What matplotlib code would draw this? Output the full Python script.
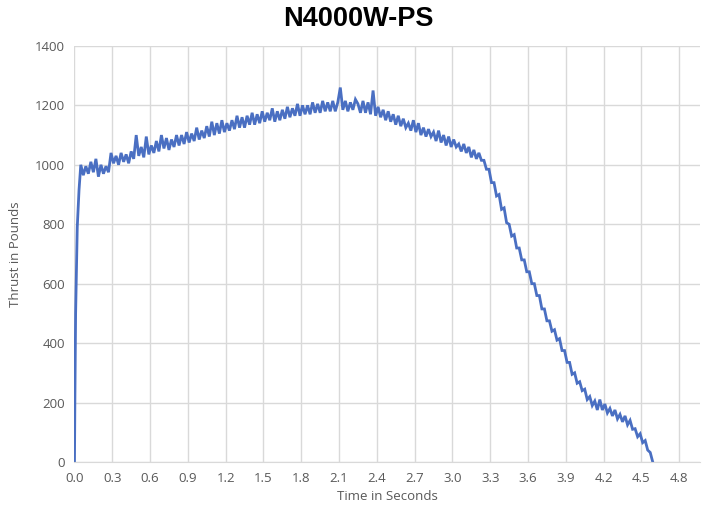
import numpy as np
import matplotlib.pyplot as plt

# thrust curve (pounds)
# ignition ramp, sampled irregularly
ramp_time = [0.0, 0.003, 0.009, 0.022, 0.036]
ramp_thrust = [0, 200, 500, 790, 915]

# main burn, one reading every 0.02 s starting at 0.05 s
sample_start = 0.05
sample_step = 0.02
burn_thrust = [
    1000, 965, 995, 970, 1010, 975, 1020, 960, 1000, 970,
    995, 975, 1040, 1005, 1030, 1000, 1040, 1010, 1035, 1005,
    1045, 1020, 1100, 1030, 1060, 1025, 1095, 1035, 1065, 1040,
    1080, 1045, 1100, 1055, 1090, 1050, 1085, 1060, 1100, 1065,
    1100, 1070, 1110, 1075, 1105, 1080, 1125, 1085, 1115, 1090,
    1130, 1095, 1145, 1100, 1140, 1105, 1150, 1110, 1140, 1115,
    1150, 1120, 1165, 1125, 1160, 1125, 1165, 1135, 1175, 1135,
    1170, 1140, 1180, 1145, 1175, 1150, 1190, 1145, 1180, 1150,
    1185, 1155, 1195, 1160, 1190, 1165, 1205, 1165, 1200, 1170,
    1200, 1170, 1210, 1175, 1205, 1175, 1215, 1180, 1210, 1180,
    1215, 1180, 1210, 1260, 1185, 1215, 1180, 1210, 1185, 1220,
    1205, 1175, 1215, 1175, 1210, 1170, 1250, 1165, 1195, 1160,
    1185, 1150, 1180, 1145, 1170, 1135, 1165, 1130, 1155, 1125,
    1140, 1115, 1150, 1110, 1140, 1100, 1125, 1095, 1120, 1095,
    1110, 1080, 1115, 1075, 1100, 1065, 1095, 1060, 1085, 1060,
    1070, 1045, 1070, 1040, 1060, 1025, 1050, 1020, 1040, 1015,
    1015, 985, 985, 940, 940, 895, 900, 850, 855, 805,
    800, 760, 765, 720, 720, 680, 680, 640, 640, 600,
    600, 560, 560, 515, 515, 475, 475, 440, 445, 410,
    415, 375, 375, 335, 335, 295, 300, 265, 270, 240,
    245, 210, 220, 190, 205, 175, 210, 175, 195, 165,
    180, 155, 175, 145, 160, 135, 155, 125, 140, 110,
    112, 85, 95, 65, 72, 40, 32,
]

# burnout
end_time = [4.59]
end_thrust = [0]

burn_time = np.round(sample_start + sample_step * np.arange(len(burn_thrust)), 3)
time_s = np.concatenate([ramp_time, burn_time, end_time])
thrust_lb = np.concatenate([ramp_thrust, burn_thrust, end_thrust])

x_ticks = [0.0, 0.3, 0.6, 0.9, 1.2, 1.5, 1.8, 2.1, 2.4, 2.7, 3.0, 3.3, 3.6, 3.9, 4.2, 4.5, 4.8]
y_ticks = [0, 200, 400, 600, 800, 1000, 1200, 1400]

label_grey = '#595959'
grid_grey = '#d9d9d9'

fig = plt.figure(figsize=(7.04, 5.08), dpi=100)
ax = fig.add_axes([0.1058, 0.0906, 0.8885, 0.819])

ax.plot(time_s, thrust_lb, color='#4a6fc2', linewidth=2.0, solid_joinstyle='miter')

ax.set_xlim(0, 4.965)
ax.set_ylim(0, 1400)
ax.set_xticks(x_ticks)
ax.set_xticklabels([f'{v:.1f}' for v in x_ticks])
ax.set_yticks(y_ticks)
ax.grid(True, color=grid_grey, linewidth=1.0)
ax.set_axisbelow(True)
for side in ['top', 'right', 'left']:
    ax.spines[side].set_visible(False)
ax.spines['bottom'].set_color(grid_grey)
ax.tick_params(length=0, labelsize=9.5, labelcolor=label_grey, pad=7)
for lbl in ax.get_xticklabels() + ax.get_yticklabels():
    lbl.set_fontfamily('Open Sans')

ax.set_xlabel('Time in Seconds', fontsize=9.5, color=label_grey, family='Open Sans', labelpad=4)
ax.set_ylabel('Thrust in Pounds', fontsize=9.5, color=label_grey, family='Open Sans', labelpad=9)

fig.text(358 / 704, 1 - 18.5 / 508, 'N4000W-PS', ha='center', va='center',
         fontsize=19.5, fontweight='bold', family='Liberation Sans', color='black')

fig.savefig('out.png', dpi=100)
